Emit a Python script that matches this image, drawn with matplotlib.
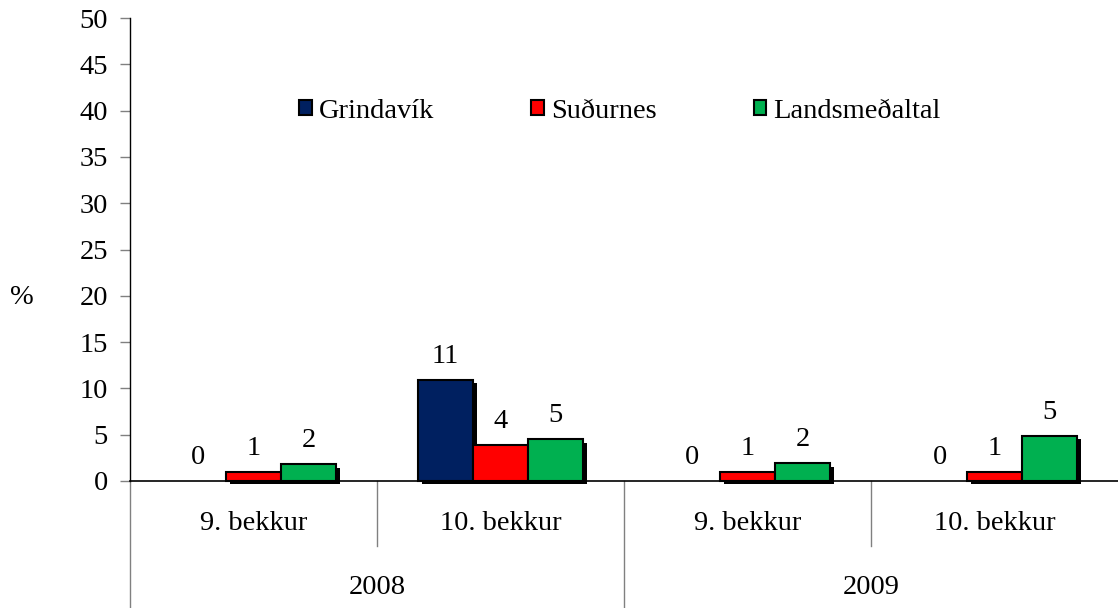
import numpy as np
import matplotlib
matplotlib.use("Agg")
import matplotlib.pyplot as plt
from matplotlib.patches import Patch
import matplotlib.patheffects as pe

# ---- data ----
grades = ["9. bekkur", "10. bekkur", "9. bekkur", "10. bekkur"]
years = ["2008", "2009"]
series_names = ["Grindavík", "Suðurnes", "Landsmeðaltal"]
grindavik = [0.0, 10.9, 0.0, 0.0]
sudurnes = [1.0, 3.9, 1.0, 1.0]
landsmedaltal = [1.8, 4.5, 1.9, 4.9]
colors = ["#002060", "#FF0000", "#00B050"]
yticks = [0, 5, 10, 15, 20, 25, 30, 35, 40, 45, 50]

plt.rcParams["font.family"] = ["Liberation Serif", "DejaVu Serif"]
FS = 20.5

W, H = 1118, 608
fig = plt.figure(figsize=(W / 100, H / 100), dpi=100)
ax = fig.add_axes([130 / W, (H - 481) / H, (W - 130) / W, (481 - 18) / H])

x = np.arange(len(grades))
bw = 55 / 247
shadow = [pe.SimplePatchShadow(offset=(3, -2.4), shadow_rgbFace="black", alpha=1.0), pe.Normal()]

all_series = [grindavik, sudurnes, landsmedaltal]
for i, (vals, col) in enumerate(zip(all_series, colors)):
    offs = (i - 1) * bw
    bars = ax.bar(x + offs, vals, width=bw, color=col, edgecolor="black",
                  linewidth=1.5, zorder=3 + i, clip_on=False)
    for b in bars:
        b.set_path_effects(shadow)
        if b.get_height() == 0:
            b.set_visible(False)
    for xi, v in zip(x + offs, vals):
        lab = str(int(np.floor(v + 0.5)))
        ax.annotate(lab, (xi, v), xytext=(0, 12.2), textcoords="offset points",
                    ha="center", va="baseline", fontsize=FS, zorder=10)

ax.set_xlim(-0.5, len(grades) - 0.5)
ax.set_ylim(0, 50)
ax.set_yticks(yticks)
ax.set_yticklabels([str(t) for t in yticks], fontsize=FS)
ax.tick_params(axis="y", direction="out", length=7, width=1, color="#808080", pad=9)
ax.set_xticks([])
for s in ["top", "right"]:
    ax.spines[s].set_visible(False)
ax.spines["left"].set_linewidth(1)
ax.spines["bottom"].set_linewidth(1.2)
ax.spines["bottom"].set_zorder(2)

# multi-level category axis
tr = ax.get_xaxis_transform()
ybot = -(H - 481) / (481 - 18)
ysep = -(546 - 481) / (481 - 18)
gray = "#808080"
ax.plot([-0.5, -0.5], [0, ybot], color=gray, lw=1, transform=tr, clip_on=False)
ax.plot([1.5, 1.5], [0, ybot], color=gray, lw=1, transform=tr, clip_on=False)
for xs in [0.5, 2.5]:
    ax.plot([xs, xs], [0, ysep], color=gray, lw=1, transform=tr, clip_on=False)

ygrade = -(523 - 481) / (481 - 18)
for xi, g in zip(x, grades):
    ax.text(xi, ygrade, g, transform=tr, ha="center", va="center", fontsize=FS)
yyear = -(588 - 481) / (481 - 18)
for j, yr in enumerate(years):
    ax.text(2 * j + 0.5, yyear, yr, transform=tr, ha="center", va="center", fontsize=FS)

fig.text(22 / W, (H - 297) / H, "%", ha="center", va="center", fontsize=FS)

handles = [Patch(facecolor=c, edgecolor="black", linewidth=1.5) for c in colors]
fig.legend(handles, series_names, loc="center", bbox_to_anchor=(620 / W, (H - 111) / H),
           ncol=3, frameon=False, fontsize=FS, handlelength=0.45, handleheight=0.45,
           handletextpad=0.25, columnspacing=3.4, borderpad=0)

fig.savefig("out.png", dpi=100)
